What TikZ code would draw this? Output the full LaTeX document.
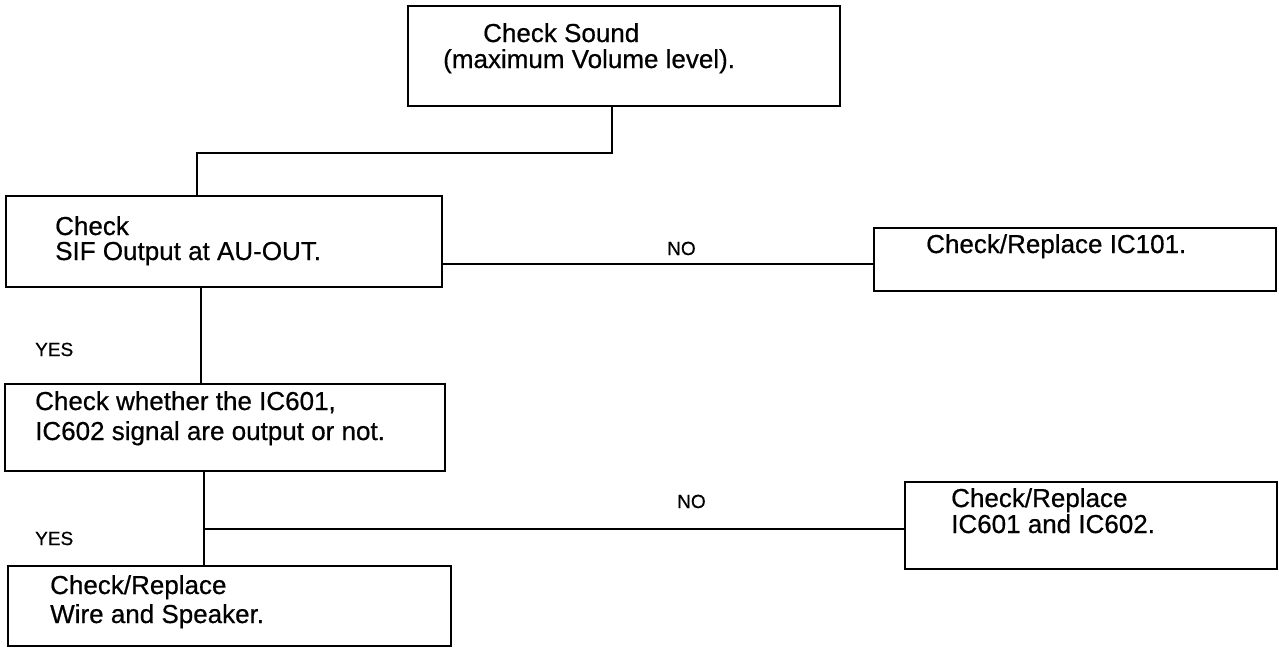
\documentclass[tikz,border=0pt]{standalone}
\usepackage{fontspec}
\setmainfont{Liberation Sans}
\newfontfamily\heavyfont[FakeBold=0.6]{Liberation Sans}
\begin{document}
\begin{tikzpicture}[x=1pt,y=-1pt,
  box/.style={draw=black,line width=1.6pt,rectangle,outer sep=0pt,inner sep=0pt,anchor=north west},
  txt/.style={anchor=base west,inner sep=0pt,font=\heavyfont\fontsize{26}{30}\selectfont},
  lbl/.style={anchor=base west,inner sep=0pt,font=\heavyfont\fontsize{19}{22}\selectfont},
  wire/.style={draw=black,line width=1.6pt}]
\useasboundingbox[fill=white] (0,0) rectangle (1279,649);
% boxes
\node[box,minimum width=432pt,minimum height=100pt] (b1) at (408,6) {};
\node[box,minimum width=436pt,minimum height=91pt] (b2) at (6,196) {};
\node[box,minimum width=402pt,minimum height=63pt] (b3) at (874,228) {};
\node[box,minimum width=440pt,minimum height=87pt] (b4) at (5,384) {};
\node[box,minimum width=443pt,minimum height=80pt] (b5) at (8,566) {};
\node[box,minimum width=372pt,minimum height=87pt] (b6) at (905,482) {};
% texts
\node[txt] (t1a) at (483,42) {Check Sound};
\node[txt] (t1b) at (443,68) {(maximum Volume level).};
\node[txt] (t2a) at (55,235) {Check};
\node[txt] (t2b) at (55,260) {SIF Output at AU-OUT.};
\node[txt] (t3) at (926,253) {Check/Replace IC101.};
\node[txt] (t4a) at (35,410) {Check whether the IC601,};
\node[txt] (t4b) at (35,440) {IC602 signal are output or not.};
\node[txt] (t5a) at (50,594) {Check/Replace};
\node[txt] (t5b) at (50,623) {Wire and Speaker.};
\node[txt] (t6a) at (951,507) {Check/Replace};
\node[txt] (t6b) at (951,533) {IC601 and IC602.};
% labels
\node[lbl] (no1) at (667,255) {NO};
\node[lbl] (no2) at (677,508) {NO};
\node[lbl] (yes1) at (35,356) {YES};
\node[lbl] (yes2) at (35,545) {YES};
% helper coordinates
\coordinate (k1) at (612,153);
\coordinate (k2) at (197,153);
\coordinate (n1) at (0,264);
\coordinate (v1) at (201,0);
\coordinate (v2) at (204,0);
\coordinate (h2) at (0,529);
% connectors
\draw[wire] (b1.south -| k1) -- (k1) -- (k2) -- (b2.north -| k2);
\draw[wire] (b2.east |- n1) -- (b3.west |- n1);
\draw[wire] (b2.south -| v1) -- (b4.north -| v1);
\draw[wire] (b4.south -| v2) -- (b5.north -| v2);
\draw[wire] (v2 |- h2) -- (b6.west |- h2);
\end{tikzpicture}
\end{document}
